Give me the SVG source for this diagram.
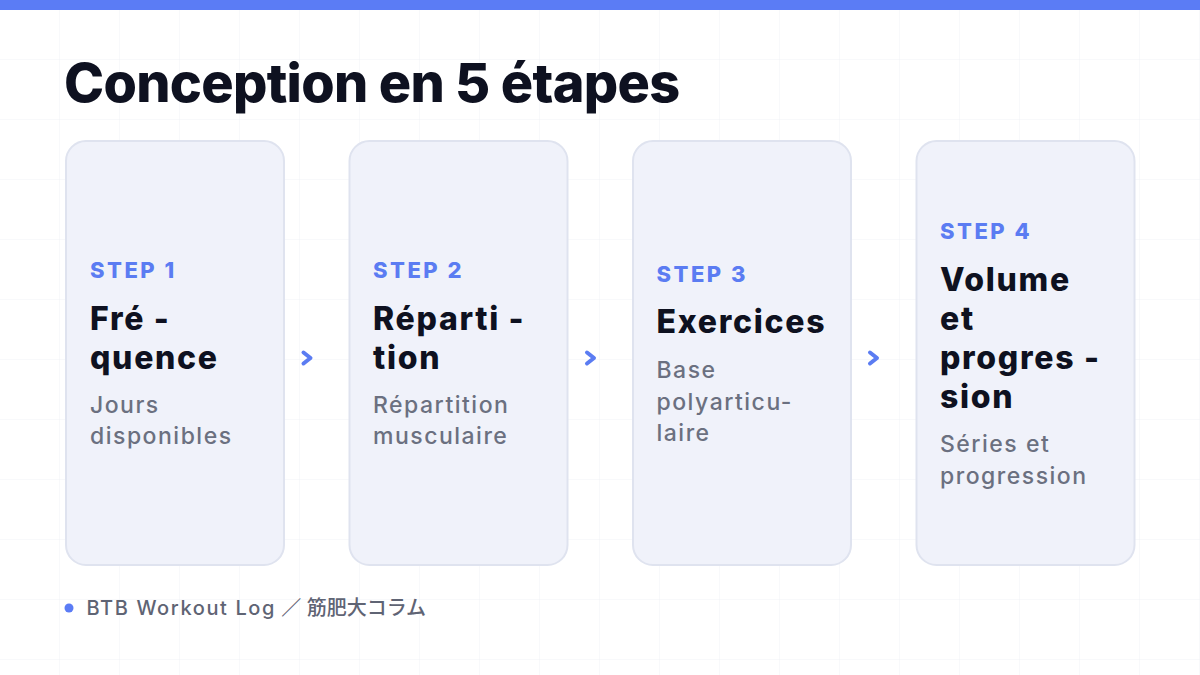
<svg xmlns="http://www.w3.org/2000/svg" width="1200" height="675" viewBox="0 0 1200 675">
  <defs>
    <pattern id="grid" x="0" y="0" width="60" height="60" patternUnits="userSpaceOnUse">
      <path d="M60 0 V60 M0 60 H60" fill="none" stroke="#f1f2f6" stroke-width="1"/>
    </pattern>
    <style>
      .title { font-family: Inter, "Liberation Sans", sans-serif; font-weight: 800; font-size: 54px; fill: #0e1120; letter-spacing: -0.7px; }
      .card { fill: #f0f2fa; stroke: #dfe3ef; stroke-width: 2; }
      .step { font-family: Inter, "Liberation Sans", sans-serif; font-weight: 800; font-size: 22px; fill: #5b7cf2; letter-spacing: 2.5px; }
      .head { font-family: Inter, "Liberation Sans", sans-serif; font-weight: 800; font-size: 32px; fill: #0e1120; letter-spacing: 1.7px; }
      .sub { font-family: Inter, "Liberation Sans", sans-serif; font-weight: 500; font-size: 23px; fill: #6b7080; letter-spacing: 1.5px; }
      .chev { fill: none; stroke: #5b7cf2; stroke-width: 4; stroke-linecap: round; stroke-linejoin: round; }
      .foot { font-family: Inter, "Noto Sans CJK JP", sans-serif; font-weight: 500; font-size: 20px; fill: #5f6474; }
      .lat { letter-spacing: 1.6px; }
    </style>
  </defs>
  <rect x="0" y="0" width="1200" height="675" fill="#ffffff"/>
  <rect x="0" y="0" width="1200" height="675" fill="url(#grid)"/>
  <rect x="0" y="0" width="1200" height="10" fill="#5b7cf5"/>

  <text class="title" x="64" y="102">Conception en 5 étapes</text>

  <g id="step1">
    <rect class="card" x="66" y="141" width="218" height="424" rx="20"/>
    <text class="step" x="90" y="278">STEP 1</text>
    <text class="head" x="90" y="330">Fré -</text>
    <text class="head" x="90" y="369">quence</text>
    <text class="sub" x="90" y="413">Jours</text>
    <text class="sub" x="90" y="444">disponibles</text>
  </g>

  <g id="step2">
    <rect class="card" x="349.5" y="141" width="218" height="424" rx="20"/>
    <text class="step" x="373" y="278">STEP 2</text>
    <text class="head" x="373" y="330">Réparti -</text>
    <text class="head" x="373" y="369">tion</text>
    <text class="sub" x="373" y="413">Répartition</text>
    <text class="sub" x="373" y="444">musculaire</text>
  </g>

  <g id="step3">
    <rect class="card" x="633" y="141" width="218" height="424" rx="20"/>
    <text class="step" x="656.5" y="282">STEP 3</text>
    <text class="head" x="656.5" y="333">Exercices</text>
    <text class="sub" x="656.5" y="378">Base</text>
    <text class="sub" x="656.5" y="410">polyarticu-</text>
    <text class="sub" x="656.5" y="441">laire</text>
  </g>

  <g id="step4">
    <rect class="card" x="916.5" y="141" width="218" height="424" rx="20"/>
    <text class="step" x="940" y="239">STEP 4</text>
    <text class="head" x="940" y="291">Volume</text>
    <text class="head" x="940" y="330">et</text>
    <text class="head" x="940" y="369">progres -</text>
    <text class="head" x="940" y="408">sion</text>
    <text class="sub" x="940" y="452">Séries et</text>
    <text class="sub" x="940" y="484">progression</text>
  </g>

  <g id="connectors">
    <path class="chev" d="M303.5 352.5 L310.5 358 L303.5 363.5"/>
    <path class="chev" d="M587 352.5 L594 358 L587 363.5"/>
    <path class="chev" d="M870 352.5 L877 358 L870 363.5"/>
  </g>

  <g id="footer">
    <circle cx="69" cy="608" r="4.5" fill="#5b7cf5"/>
    <text class="foot" x="86.5" y="615"><tspan class="lat">BTB Workout Log</tspan> ／ 筋肥大コラム</text>
  </g>
</svg>
